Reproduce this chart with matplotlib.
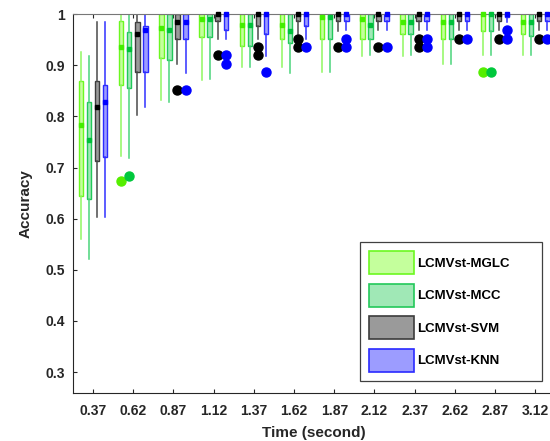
import matplotlib.pyplot as plt
from matplotlib.patches import Patch
import numpy as np

plt.rcParams['font.family'] = ['Liberation Sans', 'DejaVu Sans']
plt.rcParams['font.weight'] = 'bold'

# time labels
times = ['0.37', '0.62', '0.87', '1.12', '1.37', '1.62',
         '1.87', '2.12', '2.37', '2.62', '2.87', '3.12']
methods = ['LCMVst-MGLC', 'LCMVst-MCC', 'LCMVst-SVM', 'LCMVst-KNN']

# box stats, one list of 12 per method
mglc_hi = [0.926, 1, 1, 1, 1, 1, 1, 1, 1, 1, 1, 1]
mglc_q3 = [0.869, 0.987, 1, 1, 1, 1, 1, 1, 1, 1, 1, 1]
mglc_med = [0.784, 0.936, 0.973, 0.990, 0.978, 0.978, 0.995, 0.991, 0.985, 0.985, 1.0, 0.985]
mglc_q1 = [0.644, 0.862, 0.915, 0.956, 0.938, 0.952, 0.952, 0.952, 0.961, 0.952, 0.967, 0.961]
mglc_lo = [0.561, 0.722, 0.833, 0.872, 0.897, 0.896, 0.886, 0.918, 0.918, 0.902, 0.920, 0.920]
mglc_out = [[], [0.673], [], [], [], [], [], [], [], [], [0.886], []]

mcc_hi = [0.918, 1, 1, 1, 1, 1, 1, 1, 1, 1, 1, 1]
mcc_q3 = [0.829, 0.965, 1, 1, 1, 1, 1, 1, 1, 1, 1, 1]
mcc_med = [0.754, 0.931, 0.969, 0.990, 0.978, 0.967, 0.995, 0.978, 0.985, 0.985, 1.0, 0.985]
mcc_q1 = [0.638, 0.856, 0.911, 0.956, 0.938, 0.944, 0.952, 0.952, 0.961, 0.952, 0.967, 0.957]
mcc_lo = [0.521, 0.718, 0.828, 0.873, 0.896, 0.885, 0.886, 0.920, 0.920, 0.902, 0.920, 0.920]
mcc_out = [[], [0.684], [], [], [], [], [], [], [], [], [0.886], []]

svm_hi = [0.984, 1, 1, 1, 1, 1, 1, 1, 1, 1, 1, 1]
svm_q3 = [0.870, 0.985, 1, 1, 1, 1, 1, 1, 1, 1, 1, 1]
svm_med = [0.818, 0.961, 0.985, 1, 1, 1, 1, 1, 1, 1, 1, 1]
svm_q1 = [0.712, 0.886, 0.952, 0.987, 0.976, 0.987, 0.987, 0.987, 0.987, 0.987, 0.987, 0.987]
svm_lo = [0.604, 0.802, 0.902, 0.952, 0.952, 0.962, 0.967, 0.969, 0.969, 0.969, 0.969, 0.969]
svm_out = [[], [], [0.852], [0.920], [0.936, 0.920], [0.952, 0.935], [0.935], [0.935],
           [0.952, 0.935], [0.952], [0.952], [0.952]]

knn_hi = [0.984, 1, 1, 1, 1, 1, 1, 1, 1, 1, 1, 1]
knn_q3 = [0.861, 0.976, 1, 1, 1, 1, 1, 1, 1, 1, 1, 1]
knn_med = [0.828, 0.969, 0.985, 1, 1, 1, 1, 1, 1, 1, 1, 1]
knn_q1 = [0.720, 0.886, 0.952, 0.969, 0.961, 0.976, 0.987, 0.987, 0.987, 0.987, 0.995, 0.987]
knn_lo = [0.604, 0.818, 0.885, 0.952, 0.918, 0.952, 0.969, 0.969, 0.969, 0.969, 0.985, 0.969]
knn_out = [[], [], [0.852], [0.920, 0.902], [0.886], [0.935], [0.952, 0.935], [0.935],
           [0.952, 0.935], [0.952], [0.969, 0.952], [0.952]]

series = [
    (mglc_lo, mglc_q1, mglc_med, mglc_q3, mglc_hi, mglc_out),
    (mcc_lo, mcc_q1, mcc_med, mcc_q3, mcc_hi, mcc_out),
    (svm_lo, svm_q1, svm_med, svm_q3, svm_hi, svm_out),
    (knn_lo, knn_q1, knn_med, knn_q3, knn_hi, knn_out),
]
face = ['#c4ff9c', '#a0e8b6', '#9a9a9a', '#9c9cff']
edge = ['#6cf820', '#22c85a', '#3c3c3c', '#2a2aff']
whisk = ['#90f860', '#4ad47a', '#4a4a4a', '#3030ff']
medc = ['#44ee00', '#00c03a', '#000000', '#0000ff']
outc = ['#55ee00', '#00c83c', '#000000', '#0000ff']
offsets = [-0.3, -0.1, 0.1, 0.3]

fig = plt.figure(figsize=(5.5, 4.41), dpi=100)
ax = fig.add_axes([0.1327, 0.1088, 0.877, 0.859])

x = np.arange(1, len(times) + 1)
for k, (lo, q1, med, q3, hi, out) in enumerate(series):
    stats = []
    for i in range(len(times)):
        stats.append(dict(whislo=lo[i], q1=q1[i], med=med[i], q3=q3[i],
                          whishi=hi[i], fliers=out[i]))
    pos = x + offsets[k]
    ax.bxp(stats, positions=pos, widths=0.11, patch_artist=True,
           showcaps=False, manage_ticks=False,
           boxprops=dict(facecolor=face[k], edgecolor=edge[k], linewidth=1.0),
           whiskerprops=dict(color=whisk[k], linewidth=1.1),
           medianprops=dict(visible=False),
           flierprops=dict(marker='o', markerfacecolor=outc[k],
                           markeredgecolor=outc[k], markersize=6.5))
    ax.plot(pos, med, 's', color=medc[k], markersize=3.5, clip_on=False, zorder=5)

ax.set_xlim(0.5, 12.5)
ax.set_ylim(0.259, 1.0)
ax.set_xticks(x)
ax.set_xticklabels(times)
ax.set_yticks([0.3, 0.4, 0.5, 0.6, 0.7, 0.8, 0.9, 1])
ax.set_yticklabels(['0.3', '0.4', '0.5', '0.6', '0.7', '0.8', '0.9', '1'])
ax.tick_params(direction='in', top=True, right=True, length=3, width=0.8,
               labelsize=10, colors='#262626')
ax.tick_params(axis='x', pad=8)
ax.tick_params(axis='y', pad=6)
for s in ['left', 'bottom', 'right']:
    ax.spines[s].set_color('#262626')
ax.spines['top'].set_color('#777777')

ax.set_xlabel('Time (second)', fontsize=11, fontweight='bold', color='#262626', labelpad=6)
ax.set_ylabel('Accuracy', fontsize=11, fontweight='bold', color='#262626', labelpad=9)

handles = [Patch(facecolor=face[k], edgecolor=edge[k], linewidth=1.2) for k in range(4)]
leg = ax.legend(handles, methods, loc='lower left',
                bbox_to_anchor=(0.595, 0.032, 0.378, 0.36), mode='expand',
                borderaxespad=0, fontsize=9.5, handlelength=3.4, handleheight=2.3,
                labelspacing=0.72, handletextpad=0.25, borderpad=0.7,
                fancybox=False, framealpha=1, edgecolor='#404040')
leg.get_frame().set_linewidth(0.9)

fig.savefig('out.png', dpi=100)
